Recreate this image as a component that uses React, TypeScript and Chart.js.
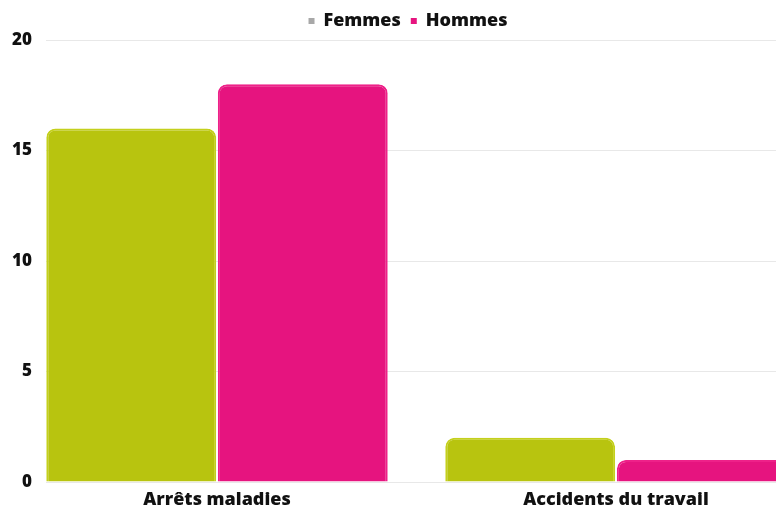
import React, { useEffect, useRef } from 'react';
import { Chart, registerables } from 'chart.js';

Chart.register(...registerables);

const categories = ['Arrêts maladies', 'Accidents du travail'];
const femmes = [16, 2];
const hommes = [18, 1];
const yTickValues = [0, 5, 10, 15, 20];
const seriesNames = ['Femmes', 'Hommes'];

const FONT = '"Open Sans", "Noto Sans", sans-serif';

export default function App() {
  const ref = useRef<HTMLCanvasElement | null>(null);

  useEffect(() => {
    if (!ref.current) return;
    const chart = new Chart(ref.current, {
      type: 'bar',
      data: {
        datasets: [
          {
            label: seriesNames[0],
            data: femmes.map((v, i) => ({ x: i, y: v })),
            backgroundColor: '#b8c40f',
            borderColor: '#c4d01c',
            borderWidth: 2,
            borderRadius: 9,
            categoryPercentage: 0.86,
            barPercentage: 0.99,
          },
          {
            label: seriesNames[1],
            data: hommes.map((v, i) => ({ x: i, y: v })),
            backgroundColor: '#e6147f',
            borderColor: '#ee2189',
            borderWidth: 2,
            borderRadius: 9,
            categoryPercentage: 0.86,
            barPercentage: 0.99,
          },
        ],
      },
      options: {
        animation: false,
        responsive: false,
        maintainAspectRatio: false,
        layout: { padding: { top: 2, bottom: 0, left: 0, right: 0 } },
        plugins: {
          tooltip: { enabled: false },
          legend: {
            position: 'top',
            labels: {
              font: { family: FONT, size: 18, weight: 800 as any },
              color: '#111',
              boxWidth: 6,
              boxHeight: 6,
              padding: 10,
              generateLabels: (c: any) => {
                const items = Chart.defaults.plugins.legend.labels.generateLabels(c);
                items.forEach((it: any, i: number) => {
                  const col = i === 0 ? '#a8a8a8' : '#e6147f';
                  it.fillStyle = col;
                  it.strokeStyle = col;
                  it.lineWidth = 0;
                });
                return items;
              },
            },
          },
        },
        scales: {
          x: {
            type: 'linear',
            offset: false,
            min: -0.4286,
            max: 1.5013,
            grid: { display: false, drawTicks: false, offset: false },
            border: { display: false },
            afterBuildTicks: (s: any) => {
              s.ticks = categories.map((_, i) => ({ value: i }));
            },
            afterFit: (s: any) => {
              s.height = 29;
            },
            ticks: {
              padding: 7,
              color: '#111',
              font: { family: FONT, size: 18, weight: 800 as any },
              callback: (v: any) => categories[Math.round(Number(v))] ?? '',
              maxRotation: 0,
              autoSkip: false,
            },
          },
          y: {
            min: 0,
            max: 20,
            afterBuildTicks: (s: any) => {
              s.ticks = yTickValues.map((v) => ({ value: v }));
            },
            afterFit: (s: any) => {
              s.width = 46;
            },
            grid: { color: '#e8e8e8', drawTicks: false },
            border: { display: false },
            ticks: {
              padding: 14,
              color: '#111',
              font: { family: FONT, size: 17, weight: 800 as any },
            },
          },
        },
      },
    });
    return () => chart.destroy();
  }, []);

  return (
    <div style={{ position: 'fixed', left: 0, top: 0, width: 776, height: 511, overflow: 'hidden', background: '#fff' }}>
      <div style={{ width: 816, height: 511 }}>
        <canvas ref={ref} width={816} height={511} style={{ display: 'block' }} />
      </div>
    </div>
  );
}
